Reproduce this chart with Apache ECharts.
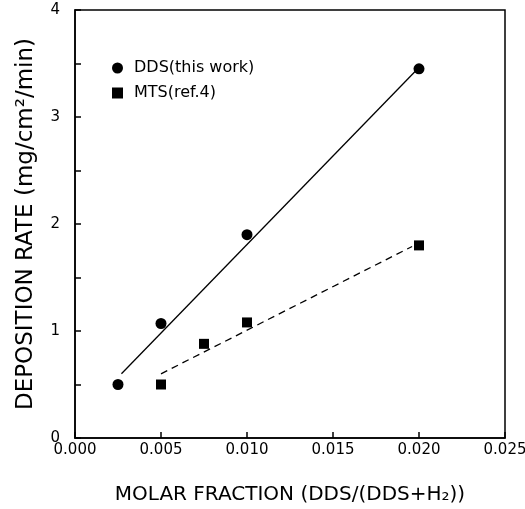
<!DOCTYPE html>
<html>
<head>
<meta charset="utf-8">
<script src="https://cdn.jsdelivr.net/npm/echarts@6/dist/echarts.min.js"></script>
<style>
  html, body { margin: 0; padding: 0; background: #fff; }
  #chart { width: 525px; height: 509px; }
</style>
</head>
<body>
<div id="chart"></div>
<script>
// Measured deposition rates (mg/cm^2/min) against molar fraction
const ddsX = [0.0025, 0.005, 0.010, 0.020];
const ddsY = [0.50, 1.07, 1.90, 3.45];
const mtsX = [0.005, 0.0075, 0.010, 0.020];
const mtsY = [0.50, 0.88, 1.08, 1.80];

// Straight-line fits drawn through each data set (end points)
const ddsFitX = [0.0027, 0.0198];
const ddsFitY = [0.60, 3.43];
const mtsFitX = [0.0050, 0.0196];
const mtsFitY = [0.60, 1.79];

// Axis ticks
const xTicks = [0.000, 0.005, 0.010, 0.015, 0.020, 0.025];
const yTicks = [0, 1, 2, 3, 4];

const FONT = 'DejaVu Sans';
const pairs = (xs, ys) => xs.map((x, i) => [x, ys[i]]);

const chart = echarts.init(document.getElementById('chart'), null, { renderer: 'canvas' });

chart.setOption({
  animation: false,
  backgroundColor: '#ffffff',
  textStyle: { fontFamily: FONT, color: '#000' },
  grid: {
    left: 75, right: 20, top: 10, bottom: 71,
    outerBoundsMode: 'none',
    containLabel: false,
    show: true, borderColor: '#000', borderWidth: 1.5, backgroundColor: 'transparent'
  },
  legend: {
    data: ['DDS(this work)', 'MTS(ref.4)'],
    orient: 'vertical',
    left: 107, top: 55,
    itemWidth: 11, itemHeight: 11, itemGap: 9,
    textStyle: { fontFamily: FONT, fontSize: 16, color: '#000', padding: [0, 0, 0, 6] },
    selectedMode: false
  },
  xAxis: {
    type: 'value',
    min: xTicks[0], max: xTicks[xTicks.length - 1], interval: 0.005,
    name: 'MOLAR FRACTION (DDS/(DDS+H\u2082))',
    nameLocation: 'middle', nameGap: 47,
    nameTextStyle: { fontFamily: FONT, fontSize: 20, color: '#000' },
    axisLine: { show: true, onZero: false, lineStyle: { color: '#000', width: 1.5 } },
    axisTick: { show: true, inside: true, length: 6, lineStyle: { color: '#000', width: 1.5 } },
    axisLabel: {
      color: '#000', fontFamily: FONT, fontSize: 15, margin: 5,
      formatter: v => v.toFixed(3)
    },
    splitLine: { show: false }
  },
  yAxis: {
    type: 'value',
    min: yTicks[0], max: yTicks[yTicks.length - 1], interval: 0.5,
    name: 'DEPOSITION RATE (mg/cm\u00B2/min)',
    nameLocation: 'middle', nameGap: 37, nameRotate: 90,
    nameTextStyle: { fontFamily: FONT, fontSize: 23, color: '#000' },
    axisLine: { show: true, onZero: false, lineStyle: { color: '#000', width: 1.5 } },
    axisTick: { show: true, inside: true, length: 6, lineStyle: { color: '#000', width: 1.5 } },
    axisLabel: {
      color: '#000', fontFamily: FONT, fontSize: 15, margin: 15,
      formatter: v => (yTicks.indexOf(v) >= 0 ? String(v) : '')
    },
    splitLine: { show: false }
  },
  series: [
    {
      name: 'DDS fit', type: 'line', data: pairs(ddsFitX, ddsFitY),
      symbol: 'none', silent: true,
      lineStyle: { color: '#000', width: 1.3, type: 'solid' }, z: 1
    },
    {
      name: 'MTS fit', type: 'line', data: pairs(mtsFitX, mtsFitY),
      symbol: 'none', silent: true,
      lineStyle: { color: '#000', width: 1.3, type: [7, 5] }, z: 1
    },
    {
      name: 'DDS(this work)', type: 'scatter', data: pairs(ddsX, ddsY),
      symbol: 'circle', symbolSize: 11,
      itemStyle: { color: '#000', opacity: 1 }, z: 3
    },
    {
      name: 'MTS(ref.4)', type: 'scatter', data: pairs(mtsX, mtsY),
      symbol: 'rect', symbolSize: 10,
      itemStyle: { color: '#000', opacity: 1 }, z: 3
    }
  ]
});
</script>
</body>
</html>
